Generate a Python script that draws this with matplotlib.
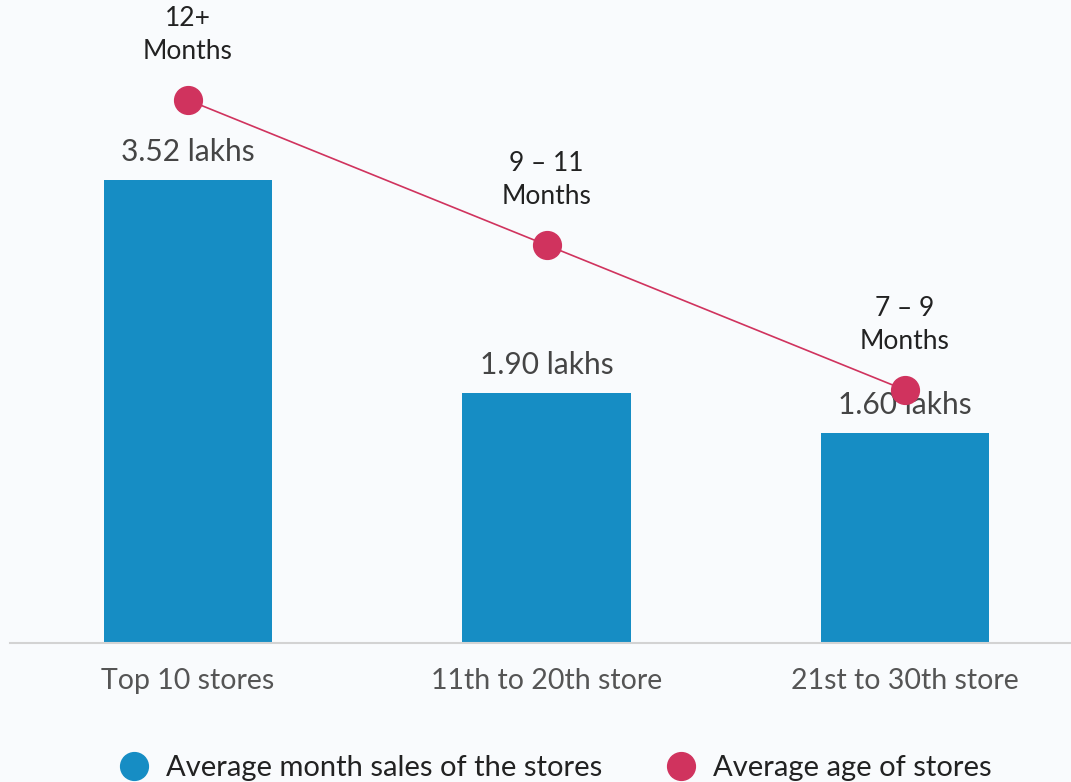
import matplotlib.pyplot as plt
from matplotlib.lines import Line2D

# store groups, sales (lakhs) and average age (months)
groups = ['Top 10 stores', '11th to 20th store', '21st to 30th store']
sales = [3.52, 1.90, 1.60]
sales_labels = ['3.52 lakhs', '1.90 lakhs', '1.60 lakhs']
age = [12, 10, 8]
age_labels = ['12+\nMonths', '9 – 11\nMonths', '7 – 9\nMonths']

BLUE = '#168dc4'
RED = '#d0335e'
BG = '#f9fbfd'

plt.rcParams['font.family'] = ['Lato', 'DejaVu Sans']

fig = plt.figure(figsize=(10.71, 7.82), dpi=100, facecolor=BG)
ax = fig.add_axes([10 / 1071, 1 - 643 / 782, 1061 / 1071, 643 / 782])
ax.set_facecolor(BG)

x = list(range(len(groups)))
ax.bar(x, sales, width=0.47, color=BLUE, zorder=2)
ax.set_xlim(-0.4965, 2.463)
ax.set_ylim(0, 4.89)

for xi, v, lab in zip(x, sales, sales_labels):
    ax.annotate(lab, (xi, v), xytext=(0, 14), textcoords='offset pixels',
                ha='center', va='bottom', fontsize=21.5, color='#454545')

ax.set_xticks(x)
ax.set_xticklabels(groups, fontsize=20.5, color='#555555')
ax.tick_params(axis='x', length=0, pad=18)
ax.set_yticks([])
for s in ['top', 'right', 'left']:
    ax.spines[s].set_visible(False)
ax.spines['bottom'].set_color('#d3d3d3')
ax.spines['bottom'].set_linewidth(1.5)

# age of stores on its own scale
ax2 = ax.twinx()
ax2.set_ylim(4.51, 13.38)
ax2.plot(x, age, color=RED, lw=1.2, marker='o', markersize=20, zorder=3)
for xi, v, lab in zip(x, age, age_labels):
    ax2.annotate(lab, (xi, v), xytext=(0, 36), textcoords='offset pixels',
                 ha='center', va='bottom', fontsize=19, color='#222222',
                 linespacing=1.4)
ax2.axis('off')

handles = [
    Line2D([], [], ls='none', marker='o', markersize=20, color=BLUE),
    Line2D([], [], ls='none', marker='o', markersize=20, color=RED),
]
fig.legend(handles, ['Average month sales of the stores', 'Average age of stores'],
           loc='center', bbox_to_anchor=(0.519, 0.018), ncol=2, frameon=False,
           fontsize=21, handlelength=1.0, handletextpad=0.6, columnspacing=2.2,
           labelcolor='#222222')

fig.savefig('out.png', dpi=100, facecolor=BG)
